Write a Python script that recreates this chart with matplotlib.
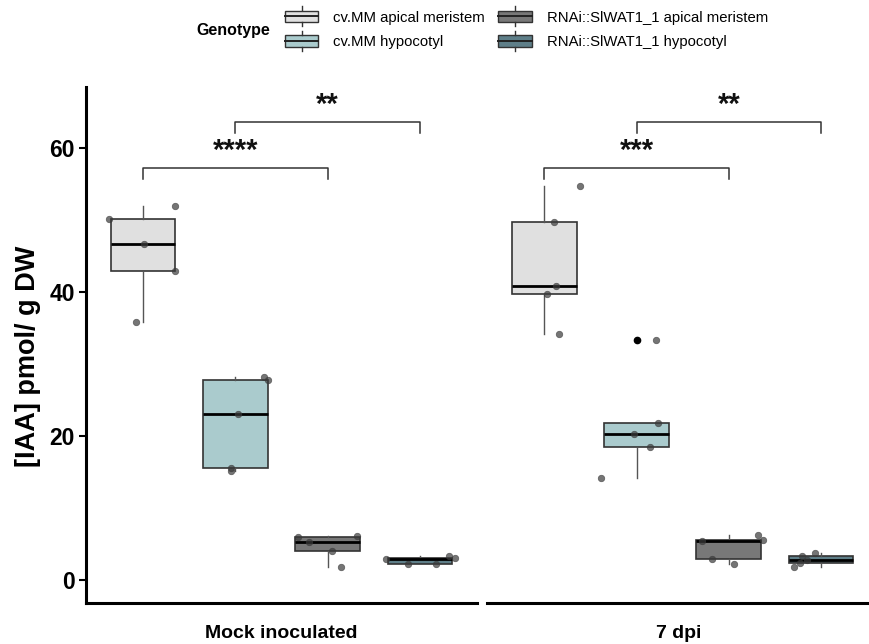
"""IAA content per genotype/tissue, mock vs 7 dpi, as faceted box plots."""
import matplotlib

matplotlib.use("Agg")
import matplotlib.pyplot as plt
from matplotlib.legend_handler import HandlerBase
from matplotlib.lines import Line2D
from matplotlib.patches import Patch, Rectangle

plt.rcParams["font.family"] = ["Liberation Sans", "DejaVu Sans"]

genotypes = [
    "cv.MM apical meristem",
    "cv.MM hypocotyl",
    "RNAi::SlWAT1_1 apical meristem",
    "RNAi::SlWAT1_1 hypocotyl",
]
fills = ["#e0e0e0", "#aacbcd", "#787878", "#5e7e88"]
panels = ["Mock inoculated", "7 dpi"]

# values, one list per box (n = 5)
mock_values = [
    [35.9, 42.9, 46.7, 50.1, 51.9],
    [15.1, 15.5, 23.1, 27.8, 28.2],
    [1.8, 4.07, 5.23, 6.0, 6.05],
    [2.2, 2.25, 2.95, 3.0, 3.3],
]
dpi7_values = [
    [34.2, 39.8, 40.8, 49.8, 54.7],
    [14.1, 18.5, 20.3, 21.8, 33.3],
    [2.2, 2.9, 5.46, 5.5, 6.2],
    [1.8, 2.3, 2.8, 3.3, 3.7],
]
# horizontal jitter of each point as drawn (box-width units)
mock_jitter = [
    [-0.08, 0.35, 0.01, -0.37, 0.35],
    [-0.05, -0.05, 0.03, 0.35, 0.31],
    [0.14, 0.05, -0.20, -0.32, 0.32],
    [-0.13, 0.17, -0.37, 0.38, 0.32],
]
dpi7_jitter = [
    [0.16, 0.03, 0.13, 0.11, 0.39],
    [-0.39, 0.15, -0.03, 0.23, 0.21],
    [0.06, -0.18, -0.29, 0.37, 0.32],
    [-0.29, -0.23, -0.15, -0.21, -0.07],
]

# significance brackets: (from box, to box, height, label)
mock_signif = [(0, 2, 57.3, "****"), (1, 3, 63.7, "**")]
dpi7_signif = [(0, 2, 57.3, "***"), (1, 3, 63.7, "**")]

yticks = [0, 20, 40, 60]


class BoxKey(HandlerBase):
    """Legend key drawn like a small box plot."""

    def create_artists(self, legend, orig_handle, xdescent, ydescent,
                       width, height, fontsize, trans):
        x0, y0 = -xdescent, -ydescent
        rect = Rectangle((x0, y0), width, height, facecolor=orig_handle.get_facecolor(),
                         edgecolor="#333333", lw=1.0, transform=trans)
        mid = y0 + height / 2
        med = Line2D([x0, x0 + width], [mid, mid], color="#222222", lw=1.4, transform=trans)
        cx = x0 + width / 2
        top = Line2D([cx, cx], [y0 + height, y0 + height * 1.35], color="#333333",
                     lw=1.0, transform=trans)
        bot = Line2D([cx, cx], [y0, y0 - height * 0.35], color="#333333",
                     lw=1.0, transform=trans)
        return [rect, med, top, bot]


def draw_panel(ax, values, jitter, signif, label):
    pos = list(range(len(values)))
    bp = ax.boxplot(
        values, positions=pos, widths=0.7, patch_artist=True, whis=1.5,
        showcaps=False,
        medianprops=dict(color="black", lw=2.0),
        boxprops=dict(edgecolor="#333333", lw=1.2),
        whiskerprops=dict(color="#555555", lw=1.0),
        flierprops=dict(marker="o", markerfacecolor="black",
                        markeredgecolor="black", markersize=4.5),
    )
    for patch, fc in zip(bp["boxes"], fills):
        patch.set_facecolor(fc)
    for i, (vals, jit) in enumerate(zip(values, jitter)):
        ax.scatter([i + j for j in jit], vals, s=22, color="#3a3a3a",
                   alpha=0.7, zorder=5, linewidths=0.5)
    for a, b, h, txt in signif:
        ax.plot([a, a, b, b], [h - 1.6, h, h, h - 1.6], color="#333333", lw=1.1)
        ax.text((a + b) / 2, h + 0.35, txt, ha="center", va="bottom",
                fontsize=21, fontweight="bold", color="#111111")
    ax.set_ylim(-3.2, 68.5)
    ax.set_xticks([])
    ax.set_xlabel(label, fontsize=14, fontweight="bold", labelpad=16)
    for side in ("top", "right"):
        ax.spines[side].set_visible(False)
    ax.spines["bottom"].set_linewidth(2.2)
    ax.spines["left"].set_linewidth(2.2)


fig = plt.figure(figsize=(8.7, 6.44), dpi=100)
ax1 = fig.add_axes([86 / 870, 41 / 644, 391 / 870, 516 / 644])
ax2 = fig.add_axes([487 / 870, 41 / 644, 383 / 870, 516 / 644])

draw_panel(ax1, mock_values, mock_jitter, mock_signif, panels[0])
draw_panel(ax2, dpi7_values, dpi7_jitter, dpi7_signif, panels[1])

ax1.set_xlim(-0.62, 3.62)
ax2.set_xlim(-0.62, 3.53)

ax1.set_yticks(yticks)
ax1.tick_params(axis="y", length=5, width=1.5, labelsize=16.5, pad=3)
for t in ax1.get_yticklabels():
    t.set_fontweight("bold")
ax1.set_ylabel("[IAA] pmol/ g DW", fontsize=19.5, fontweight="bold")
ax1.yaxis.set_label_coords(-0.115, 0.478)

ax2.spines["left"].set_visible(False)
ax2.set_yticks([])

handles = [Patch(facecolor=c) for c in fills]
fig.legend(
    handles, genotypes, loc="upper left", bbox_to_anchor=(285 / 870, 1 - 10.5 / 644),
    ncol=2, frameon=False, borderpad=0, borderaxespad=0, fontsize=10.7,
    handler_map={Patch: BoxKey()}, handlelength=2.25, handleheight=0.85,
    handletextpad=1.0, columnspacing=0.9, labelspacing=0.72,
)
fig.text(233 / 870, 1 - 30 / 644, "Genotype", ha="center", va="center",
         fontsize=11.5, fontweight="bold")

fig.savefig("out.png", dpi=100)
